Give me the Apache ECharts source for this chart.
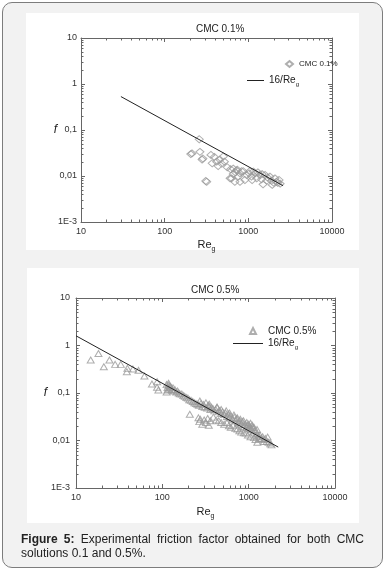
<!DOCTYPE html>
<html>
<head>
<meta charset="utf-8">
<script src="https://cdn.jsdelivr.net/npm/echarts@6/dist/echarts.min.js"></script>
<style>
  html, body { margin: 0; padding: 0; background: #ffffff; width: 386px; height: 572px; overflow: hidden; }
  #card { position: absolute; left: 2px; top: 2px; width: 379px; height: 564px; border: 1.5px solid #7d7d7d; border-radius: 10px; background: #f2f2f2; }
  #chart { position: absolute; left: 0; top: 0; width: 386px; height: 572px; }
  #caption { position: absolute; left: 21px; top: 532px; width: 343px; font-family: "Liberation Sans", Arial, sans-serif; font-size: 12px; line-height: 14px; color: #222; text-align: justify; text-align-last: left; }
</style>
</head>
<body>
<div id="card"></div>
<div id="chart"></div>
<div id="caption"><b>Figure 5:</b> Experimental friction factor obtained for both CMC solutions 0.1 and 0.5%.</div>
<script>
// ---- tick labels ----
var xTickLabels = ['10', '100', '1000', '10000'];
var yTickLabels = ['1E-3', '0,01', '0,1', '1', '10'];
var xRange = [10, 10000];
var yRange = [0.001, 10];

// ---- panel titles / series names ----
var titles = ['CMC 0.1%', 'CMC 0.5%'];
var lineName = '16/Reg';

// ---- 16/Re_g reference line (end points) ----
var line01 = [[30, 0.533], [2600, 0.00615]];
var line05 = [[10, 1.6], [2200, 0.00727]];

// ---- CMC 0.1% measured points [Re_g, f] ----
var cmc01 = [
  [259,0.063],[205,0.030],[212,0.031],[264,0.0335],[280,0.0227],[286,0.024],[318,0.0075],[310,0.0078],
  [357,0.0287],[392,0.026],[418,0.0205],[370,0.0189],[456,0.0227],[502,0.0265],[436,0.0165],[518,0.0205],
  [615,0.014],[660,0.0145],[725,0.0133],[605,0.0089],[630,0.0089],[760,0.0097],[795,0.0075],[690,0.0075],
  [830,0.0127],[870,0.0127],[955,0.0105],[910,0.0082],[1040,0.0127],[1090,0.0097],[1200,0.0114],[1260,0.0089],
  [1370,0.0105],[1440,0.0085],[1590,0.0105],[1660,0.0079],[1810,0.0097],[1890,0.0079],[2080,0.0089],[2170,0.0075],
  [2330,0.0082],[795,0.0114],[1020,0.0114],[1500,0.0066],[1930,0.0064],[1460,0.011],[1110,0.0082],[660,0.011],
  [740,0.0137],[1150,0.0125],[1300,0.012],[1700,0.0092],[2000,0.0072],[2400,0.0068],[2250,0.0071],[560,0.0155],
  [480,0.0185],[700,0.012]
];

// ---- CMC 0.5% measured points [Re_g, f] ----
var cmc05 = [
  [14.8,0.495],[18.2,0.68],[21,0.358],[24.4,0.495],[28.4,0.40],[33,0.40],[38.8,0.28],[39.4,0.33],
  [45.6,0.32],[53,0.30],[62,0.228],[75.8,0.155],[86.8,0.132],[87,0.173],[90,0.116],[118,0.16],[115,0.116],[112,0.105],
  [112,0.15],[115,0.13],[118,0.145],[120,0.12],[122,0.14],[125,0.135],[128,0.12],[130,0.115],[133,0.128],[136,0.11],
  [140,0.118],[145,0.105],[150,0.11],[155,0.1],[160,0.096],[168,0.095],[175,0.088],[182,0.085],[190,0.08],[198,0.078],
  [205,0.072],[215,0.07],[225,0.066],[235,0.062],[245,0.06],[255,0.058],[265,0.055],[272,0.068],[280,0.06],[290,0.052],
  [300,0.057],[310,0.05],[320,0.062],[330,0.048],[340,0.055],[350,0.052],[360,0.045],[370,0.05],[385,0.047],[400,0.042],
  [415,0.045],[430,0.05],[445,0.04],[460,0.043],[480,0.037],[500,0.04],[520,0.035],[540,0.038],[560,0.032],[580,0.036],
  [600,0.03],[620,0.033],[650,0.028],[680,0.031],[700,0.026],[730,0.029],[760,0.024],[790,0.026],[820,0.022],[850,0.025],
  [880,0.02],[910,0.022],[940,0.019],[970,0.021],[1000,0.018],[1030,0.02],[1060,0.017],[1100,0.019],[1140,0.015],[1180,0.016],
  [1220,0.013],[1260,0.014],[1300,0.012],[1350,0.013],[1400,0.011],[1450,0.012],[1500,0.0105],[1560,0.011],[1620,0.0095],
  [1700,0.0092],[1780,0.0085],
  [208,0.0356],[262,0.03],[268,0.025],[275,0.028],[290,0.022],[305,0.027],[320,0.024],[335,0.029],[345,0.021],[360,0.026],
  [390,0.031],[420,0.027],[450,0.026],[480,0.024],[520,0.022],[560,0.024],[590,0.0205],[620,0.019],[660,0.021],[700,0.018],
  [740,0.0175],[780,0.016],[820,0.015],[880,0.0145],[925,0.0143],[980,0.013],[1050,0.012],[1150,0.0115],[1260,0.0092],
  [1320,0.011],[1500,0.0095],[1840,0.0081],[1200,0.0105],
  [350,0.058],[430,0.05],[480,0.045],[550,0.042],[600,0.038],[675,0.0345],[740,0.03],[800,0.028],[870,0.026],[950,0.024],
  [1000,0.022],[1050,0.023],[1100,0.021],[1150,0.019],[1250,0.017],[1660,0.0118]
];

// minor tick positions (2..9 within each decade)
var xMinor = [], yMinor = [];
[10, 100, 1000].forEach(function (d) { for (var k = 2; k <= 9; k++) xMinor.push(d * k); });
[0.001, 0.01, 0.1, 1].forEach(function (d) { for (var k = 2; k <= 9; k++) yMinor.push(d * k); });

var FONT = '"Liberation Sans", Arial, sans-serif';
var AX = '#666';
var MARK = '#9a9a9a';
var subRich = {
  m: { fontSize: 11, fontFamily: FONT, color: '#222', lineHeight: 16 },
  s: { fontSize: 7, fontFamily: FONT, color: '#222', verticalAlign: 'bottom', lineHeight: 16 }
};

function xAxes(gi, labelMargin, nameGap) {
  var common = {
    gridIndex: gi, type: 'log', logBase: 10, min: xRange[0], max: xRange[1],
    axisLine: { show: true, lineStyle: { color: AX, width: 1 } },
    axisTick: { show: true, inside: true, length: 4, lineStyle: { color: AX } },
    splitLine: { show: false }
  };
  return [
    Object.assign({}, common, {
      position: 'bottom',
      axisLabel: { show: true, fontSize: 9, color: '#333', fontFamily: FONT, margin: labelMargin,
        formatter: function (v) { return xTickLabels[Math.round(Math.log10(v)) - 1]; } },
      name: '{m|Re}{s|g}', nameLocation: 'middle', nameGap: nameGap,
      nameTextStyle: { rich: subRich }
    }),
    Object.assign({}, common, { position: 'top', axisLabel: { show: false } })
  ];
}
function yAxes(gi, labelMargin, nameGap) {
  var common = {
    gridIndex: gi, type: 'log', logBase: 10, min: yRange[0], max: yRange[1],
    axisLine: { show: true, lineStyle: { color: AX, width: 1 } },
    axisTick: { show: true, inside: true, length: 4, lineStyle: { color: AX } },
    splitLine: { show: false }
  };
  return [
    Object.assign({}, common, {
      position: 'left',
      axisLabel: { show: true, fontSize: 9, color: '#333', fontFamily: FONT, margin: labelMargin,
        formatter: function (v) { return yTickLabels[Math.round(Math.log10(v)) + 3]; } },
      name: 'f', nameLocation: 'middle', nameGap: nameGap, nameRotate: 0, nameMoveOverlap: false,
      nameTextStyle: { fontSize: 12, fontStyle: 'italic', color: '#222', fontFamily: FONT, padding: [9, 0, 0, 0] }
    }),
    Object.assign({}, common, { position: 'right', axisLabel: { show: false } })
  ];
}

function minorTicks(gi) {
  return {
    type: 'custom', xAxisIndex: gi * 2, yAxisIndex: gi * 2, silent: true, z: 5,
    data: [[xRange[0], yRange[0]]],
    renderItem: function (params, api) {
      var ch = [];
      var st = { stroke: AX, lineWidth: 1 };
      xMinor.forEach(function (v) {
        var b = api.coord([v, yRange[0]]), t = api.coord([v, yRange[1]]);
        var x = Math.round(b[0]) + 0.5;
        ch.push({ type: 'line', shape: { x1: x, y1: b[1], x2: x, y2: b[1] - 2.5 }, style: st });
        ch.push({ type: 'line', shape: { x1: x, y1: t[1], x2: x, y2: t[1] + 2.5 }, style: st });
      });
      yMinor.forEach(function (v) {
        var l = api.coord([xRange[0], v]), r = api.coord([xRange[1], v]);
        var y = Math.round(l[1]) + 0.5;
        ch.push({ type: 'line', shape: { x1: l[0], y1: y, x2: l[0] + 2.5, y2: y }, style: st });
        ch.push({ type: 'line', shape: { x1: r[0], y1: y, x2: r[0] - 2.5, y2: y }, style: st });
      });
      return { type: 'group', children: ch };
    }
  };
}

function legendText(size, padLeft) {
  return {
    fontSize: size, color: '#222', fontFamily: FONT, padding: [0, 0, 0, padLeft],
    rich: {
      m: { fontSize: size, fontFamily: FONT, color: '#222', lineHeight: 14 },
      s: { fontSize: 6, fontFamily: FONT, color: '#222', verticalAlign: 'bottom', lineHeight: 14 }
    }
  };
}
function legendFmt(name) { return name === lineName ? '{m|16/Re}{s|g}' : '{m|' + name + '}'; }
function legend(name, icon, left, top, w, h, size, padLeft) {
  return { data: [{ name: name, icon: icon }], left: left, top: top, padding: 0, itemWidth: w, itemHeight: h,
    selectedMode: false, textStyle: legendText(size, padLeft), formatter: legendFmt };
}

var chart = echarts.init(document.getElementById('chart'), null, { renderer: 'canvas' });
chart.setOption({
  animation: false,
  graphic: [
    { type: 'rect', shape: { x: 26, y: 13, width: 333, height: 237 }, style: { fill: '#ffffff' }, z: -10, silent: true },
    { type: 'rect', shape: { x: 27, y: 268, width: 332, height: 255 }, style: { fill: '#ffffff' }, z: -10, silent: true }
  ],
  title: [
    { text: titles[0], left: 191, top: 19, textStyle: { fontSize: 10, fontWeight: 'normal', color: '#222', fontFamily: FONT } },
    { text: titles[1], left: 186, top: 280, textStyle: { fontSize: 10, fontWeight: 'normal', color: '#222', fontFamily: FONT } }
  ],
  grid: [
    { left: 81, top: 38, width: 251, height: 184 },
    { left: 76, top: 298, width: 259, height: 190 }
  ],
  xAxis: xAxes(0, 5, 15).concat(xAxes(1, 5, 16)),
  yAxis: yAxes(0, 4, 24).concat(yAxes(1, 6, 29)),
  legend: [
    legend(titles[0], 'diamond', 285, 60, 7, 6, 8, 1),
    legend(lineName, 'rect', 247, 75.5, 17, 1, 10, 0),
    legend(titles[1], 'triangle', 249, 326, 6, 6, 10, 7),
    legend(lineName, 'rect', 233, 338.5, 30, 1, 10, 0)
  ],
  series: [
    { name: titles[0], type: 'scatter', xAxisIndex: 0, yAxisIndex: 0, data: cmc01,
      symbol: 'diamond', symbolSize: [8, 7],
      itemStyle: { color: 'rgba(255,255,255,0)', borderColor: MARK, borderWidth: 1 } },
    { name: lineName, type: 'line', xAxisIndex: 0, yAxisIndex: 0, data: line01, symbol: 'none',
      lineStyle: { color: '#222', width: 1 }, itemStyle: { color: '#222' }, z: 4 },
    minorTicks(0),
    { name: titles[1], type: 'scatter', xAxisIndex: 2, yAxisIndex: 2, data: cmc05,
      symbol: 'triangle', symbolSize: [7, 6],
      itemStyle: { color: 'rgba(255,255,255,0)', borderColor: MARK, borderWidth: 1 } },
    { name: lineName, type: 'line', xAxisIndex: 2, yAxisIndex: 2, data: line05, symbol: 'none',
      lineStyle: { color: '#222', width: 1 }, itemStyle: { color: '#222' }, z: 4 },
    minorTicks(1)
  ]
});
</script>
</body>
</html>
